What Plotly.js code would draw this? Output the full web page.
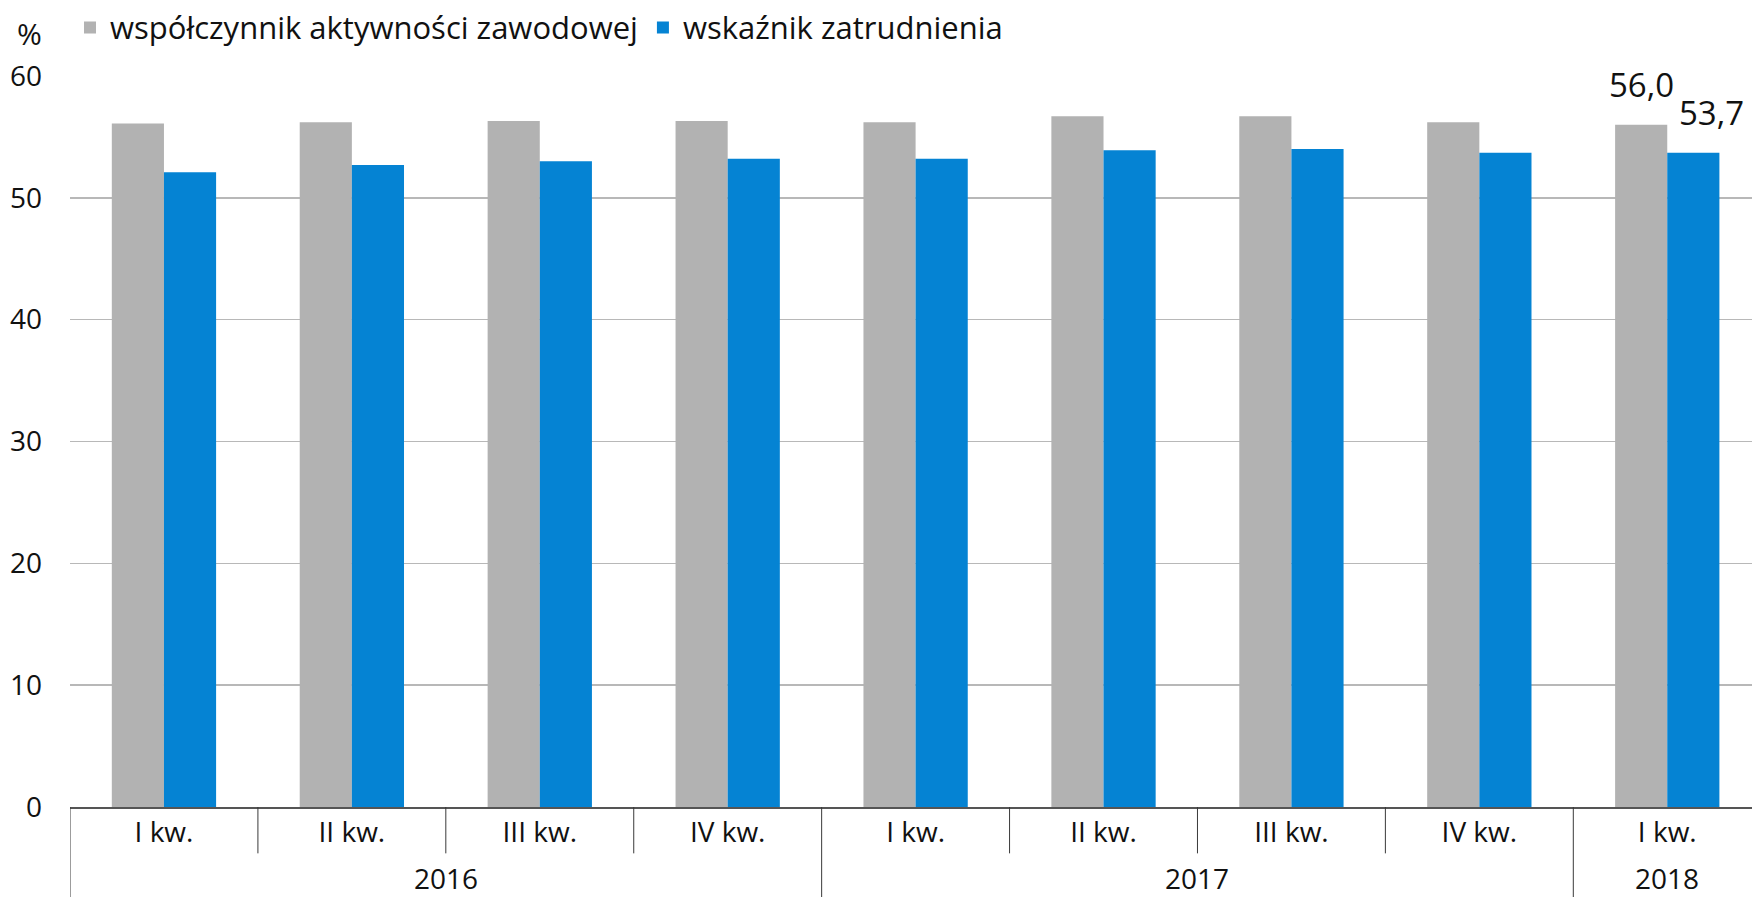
<!DOCTYPE html>
<html><head><meta charset="utf-8">
<script src="https://cdn.plot.ly/plotly-3.0.1.min.js"></script>
<style>html,body{margin:0;padding:0;background:#fff}#chart{width:1752px;height:897px}</style>
</head><body><div id="chart"></div>
<script>
const quarters = ['I kw.','II kw.','III kw.','IV kw.','I kw.','II kw.','III kw.','IV kw.','I kw.'];
const years = ['2016','2016','2016','2016','2017','2017','2017','2017','2018'];
const activityRate = [56.1,56.2,56.3,56.3,56.2,56.7,56.7,56.2,56.0];
const employmentRate = [52.1,52.7,53.0,53.2,53.2,53.9,54.0,53.7,53.7];
const seriesNames = ['współczynnik aktywności zawodowej','wskaźnik zatrudnienia'];
const yTicks = [0,10,20,30,40,50,60];
const unitLabel = '%';

const FONT = 'Open Sans, sans-serif';
const TXT = '#111111';
const GRAY = '#b2b2b2';
const BLUE = '#0583d3';
const idx = quarters.map((_, i) => i);
const fmt = v => v.toFixed(1).replace('.', ',');

const traces = [
  {type:'bar', name:seriesNames[0], x:idx, y:activityRate, marker:{color:GRAY}, hoverinfo:'skip'},
  {type:'bar', name:seriesNames[1], x:idx, y:employmentRate, marker:{color:BLUE}, hoverinfo:'skip'}
];

const shapes = [];
for (let i = 0; i < quarters.length; i++) {
  const yearStart = (i === 0 || years[i] !== years[i-1]);
  shapes.push({type:'line', xref:'x', yref:'paper', x0:i-0.5, x1:i-0.5, y0:0, y1: yearStart ? -0.2 : -0.0634,
    line:{color:'#3a3a3a', width:1}});
}

const annotations = [];
const uniqYears = [...new Set(years)];
uniqYears.forEach(y => {
  const ids = idx.filter(i => years[i] === y);
  const mid = (ids[0] + ids[ids.length-1]) / 2;
  annotations.push({xref:'x', yref:'paper', x:mid, y:-0.0965, yanchor:'middle', text:y, showarrow:false,
    font:{family:FONT, size:28, color:TXT}});
});
const last = quarters.length - 1;
annotations.push({xref:'x', yref:'y', x:last, y:activityRate[last], text:fmt(activityRate[last]), showarrow:false,
  yanchor:'bottom', xshift:-26, yshift:16, font:{family:FONT, size:33, color:TXT}});
annotations.push({xref:'x', yref:'y', x:last, y:employmentRate[last], text:fmt(employmentRate[last]), showarrow:false,
  yanchor:'bottom', xshift:44, yshift:16, font:{family:FONT, size:33, color:TXT}});
annotations.push({xref:'paper', yref:'paper', x:-0.0238, y:1.0588, xanchor:'center', yanchor:'middle', text:unitLabel,
  showarrow:false, font:{family:FONT, size:30, color:TXT}});

const layout = {
  width:1752, height:897,
  margin:{l:70, r:0, t:76, b:90.3, pad:0},
  paper_bgcolor:'#ffffff', plot_bgcolor:'#ffffff',
  font:{family:FONT, color:TXT},
  barmode:'group', bargap:0.445, bargroupgap:0,
  showlegend:true,
  legend:{orientation:'h', x:0, xanchor:'left', y:1.066, yanchor:'middle', font:{family:FONT, size:31, color:TXT},
    bgcolor:'rgba(0,0,0,0)', traceorder:'normal', itemwidth:30},
  xaxis:{range:[-0.5, 8.451], tickmode:'array', tickvals:idx, ticktext:quarters, ticks:'', showgrid:false,
    zeroline:false, showline:true, linecolor:'#555555', linewidth:1.5, tickfont:{family:FONT, size:28, color:TXT}, fixedrange:true},
  yaxis:{range:[0,60], tickmode:'array', tickvals:yTicks, ticks:'', showgrid:true, gridcolor:'#b8b8b8', gridwidth:1.5,
    zeroline:false, showline:false, ticklabelstandoff:27, tickfont:{family:FONT, size:28, color:TXT}, fixedrange:true},
  shapes:shapes, annotations:annotations
};
Plotly.newPlot('chart', traces, layout, {staticPlot:true, displayModeBar:false});
</script></body></html>
